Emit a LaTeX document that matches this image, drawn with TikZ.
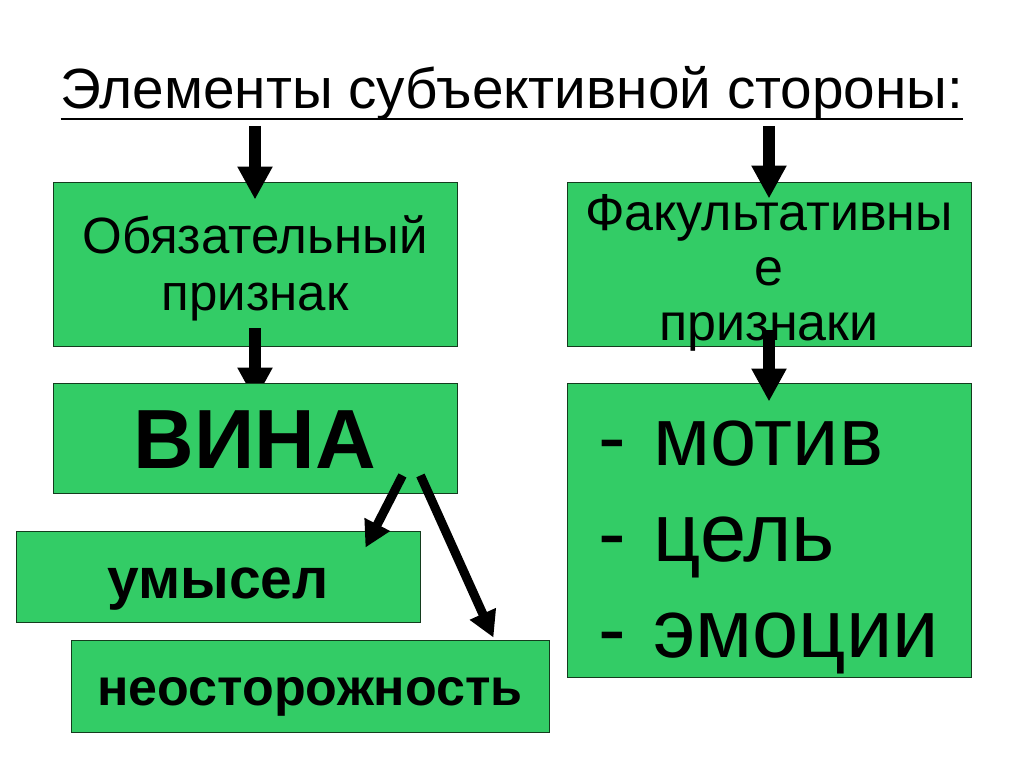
\documentclass[tikz,border=0pt]{standalone}
\usepackage{fontspec}
\setmainfont{Liberation Sans}
\usetikzlibrary{arrows.meta,calc}
\definecolor{boxgreen}{RGB}{51,204,102}
\definecolor{boxedge}{RGB}{20,60,30}
\tikzset{
  box/.style={draw=boxedge, line width=0.9pt, fill=boxgreen, inner sep=0pt, anchor=center},
  bigarrow/.style={line width=12pt, -{Triangle[length=33pt,width=33pt]}},
  diagarrow/.style={line width=9pt, -{Triangle[length=26pt,width=27pt]}},
}
\begin{document}
\begin{tikzpicture}[x=1pt,y=-1pt]
\useasboundingbox[fill=white] (0,0) rectangle (1024,767);
% title
\node[anchor=base, inner sep=0pt, font=\fontsize{56.7}{64}\selectfont] (title) at (512,109)
  {Элементы субъективной стороны:};
\draw[line width=2.7pt] ($(title.base west)+(0,10)$) -- ($(title.base east)+(0,10)$);
% upper boxes
\node[box, minimum width=404pt, minimum height=164pt, text width=390pt, align=center,
  font=\fontsize{51}{57}\selectfont, text height=46pt, text depth=68pt] (b1) at (255,264)
  {Обязательный\\признак};
\node[box, minimum width=404pt, minimum height=164pt, text width=400pt, align=center,
  font=\fontsize{52}{55}\selectfont, text height=46pt, text depth=114pt] (b2) at (769,264)
  {Факультативны\\е\\признаки};
\draw[bigarrow] ($(title.base -| b1.north)+(0,17)$) -- ($(b1.north)+(0,18)$);
\draw[bigarrow] ($(title.base -| b2.north)+(0,17)$) -- ($(b2.north)+(0,17)$);
% ВИНА
\node[box, minimum width=404pt, minimum height=110pt,
  font=\fontsize{84}{96}\selectfont\bfseries, text height=66pt, text depth=6pt] (b3) at (255,438)
  {ВИНА};
\begin{scope}
  \clip (b1.north west) rectangle (b3.north east);
  \draw[bigarrow] ($(b1.south)+(0,-18)$) -- ($(b3.north)+(0,18)$);
\end{scope}
% facultative list
\node[box, minimum width=404pt, minimum height=294pt, inner xsep=31pt, text width=342pt, align=left,
  font=\fontsize{83}{96}\selectfont, text height=79pt, text depth=209pt] (b4) at (769,530)
  {- мотив\\- цель\\- эмоции};
\draw[bigarrow] ($(b2.south)+(0,-16)$) -- ($(b4.north)+(0,19)$);
% forms of guilt
\node[box, minimum width=404pt, minimum height=91pt,
  font=\fontsize{57}{64}\selectfont\bfseries, text height=52pt, text depth=9pt] (b5) at (218,576.5)
  {умысел};
\node[box, minimum width=478pt, minimum height=92pt,
  font=\fontsize{52}{60}\selectfont\bfseries, text height=46pt, text depth=8pt] (b6) at (310,686)
  {неосторожность};
\draw[diagarrow] ($(b3.south east)+(-55,-18)$) -- ($(b5.north east)+(-55,17)$);
\draw[diagarrow] ($(b3.south east)+(-37,-18)$) -- ($(b6.north east)+(-56,-2)$);
\end{tikzpicture}
\end{document}
